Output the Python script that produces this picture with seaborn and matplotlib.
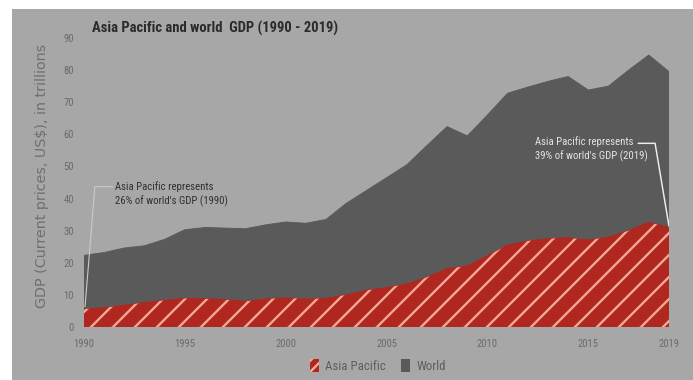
import matplotlib
matplotlib.use("Agg")
import matplotlib.pyplot as plt
from matplotlib.patches import Patch, Rectangle
import seaborn as sns
import pandas as pd

years = list(range(1990, 2020))
world_gdp = [22.3, 23.2, 24.6, 25.3, 27.3, 30.3, 31.0, 30.8, 30.6, 31.8,
             32.7, 32.3, 33.5, 38.5, 42.5, 46.5, 50.5, 56.5, 62.4, 59.5,
             66.0, 72.8, 74.7, 76.5, 78.0, 73.8, 75.0, 80.0, 84.7, 79.5]
asia_pacific_gdp = [5.6, 6.0, 6.8, 7.6, 8.3, 8.9, 8.8, 8.5, 8.0, 8.7,
                    9.1, 8.7, 8.9, 10.0, 11.4, 12.3, 13.4, 15.5, 18.2, 19.0,
                    22.2, 25.5, 26.8, 27.5, 27.8, 27.1, 28.0, 30.0, 32.6, 31.0]
x_ticks = [1990, 1995, 2000, 2005, 2010, 2015, 2019]
y_ticks = [0, 10, 20, 30, 40, 50, 60, 70, 80, 90]

title = "Asia Pacific and world  GDP (1990 - 2019)"
y_label = "GDP (Current prices, US$), in trillions"
note_1990 = "Asia Pacific represents\n26% of world's GDP (1990)"
note_2019 = "Asia Pacific represents\n39% of world's GDP (2019)"

df = pd.DataFrame({"Year": years, "World": world_gdp, "Asia Pacific": asia_pacific_gdp})

BG = "#a7a7a7"
WORLD = "#5a5a5b"
RED = "#b0271f"
HATCH = "#f2a797"

sns.set_theme(style="white")
NARROW = ["Roboto Condensed", "Archivo Narrow", "Liberation Sans", "DejaVu Sans"]
plt.rcParams["font.family"] = NARROW
plt.rcParams["hatch.linewidth"] = 1.3

DPI = 132
fig = plt.figure(figsize=(693 / DPI, 380 / DPI), dpi=DPI, facecolor="white")
fig.patches.append(Rectangle((12 / 693, 0), 1 - 12 / 693, 1 - 9 / 380,
                             transform=fig.transFigure, facecolor=BG,
                             edgecolor="none", zorder=-10))

ax = fig.add_axes([84 / 693, 53 / 380, 585 / 693, 289 / 380])
ax.set_facecolor(BG)
ax.patch.set_alpha(0)

sns.lineplot(data=df, x="Year", y="World", ax=ax, color=WORLD, linewidth=0.5)
ax.fill_between(df["Year"], 0, df["World"], facecolor=WORLD, edgecolor="none", zorder=1)
sns.lineplot(data=df, x="Year", y="Asia Pacific", ax=ax, color=RED, linewidth=0.5)
ax.fill_between(df["Year"], 0, df["Asia Pacific"], facecolor=RED, edgecolor=HATCH,
                hatch="//", linewidth=0, zorder=2)

ax.set_xlim(1990, 2019)
ax.set_ylim(0, 90)
ax.set_xticks(x_ticks)
ax.set_yticks(y_ticks)
ax.tick_params(axis="both", length=0, labelsize=5.8, colors="#6b6b6b")
ax.tick_params(axis="x", pad=6.5)
ax.tick_params(axis="y", pad=5.5)
for s in ax.spines.values():
    s.set_visible(False)
ax.set_xlabel("")
ax.set_ylabel("")
ax.grid(False)

fig.text(42.5 / 693, 1 - 176 / 380, y_label, rotation=90, ha="center", va="center",
         fontsize=7.8, color="#6f6f6f", family=["DejaVu Sans"])
fig.text(92 / 693, 1 - 28 / 380, title, ha="left", va="center",
         fontsize=8.0, fontweight="bold", color="#2b2b2b")

# annotations
ax.plot([1990.05, 1990.54, 1991.45], [6.3, 43.7, 43.7], color="#cbcbcb", linewidth=0.6, zorder=4)
ax.text(1991.55, 41.4, note_1990, ha="left", va="center", fontsize=5.9,
        color="#303030", linespacing=1.4, zorder=5)
ax.plot([2017.47, 2018.31, 2019.0], [57.2, 57.2, 31.4], color="#eeeeee", linewidth=0.8, zorder=4)
ax.text(2012.36, 55.4, note_2019, ha="left", va="center", fontsize=5.9,
        color="#e4e4e4", linespacing=1.4, zorder=5)

handles = [Patch(facecolor=RED, edgecolor=HATCH, hatch="////", linewidth=0, label="Asia Pacific"),
           Patch(facecolor=WORLD, edgecolor="none", label="World")]
fig.legend(handles=handles, loc="center", bbox_to_anchor=(378 / 693, 1 - 366 / 380),
           ncol=2, frameon=False, fontsize=7.0, handlelength=0.7, handleheight=1.2,
           handletextpad=0.5, columnspacing=1.2, labelcolor="#5e5e5e")

fig.savefig("out.png", dpi=DPI, facecolor="white")
